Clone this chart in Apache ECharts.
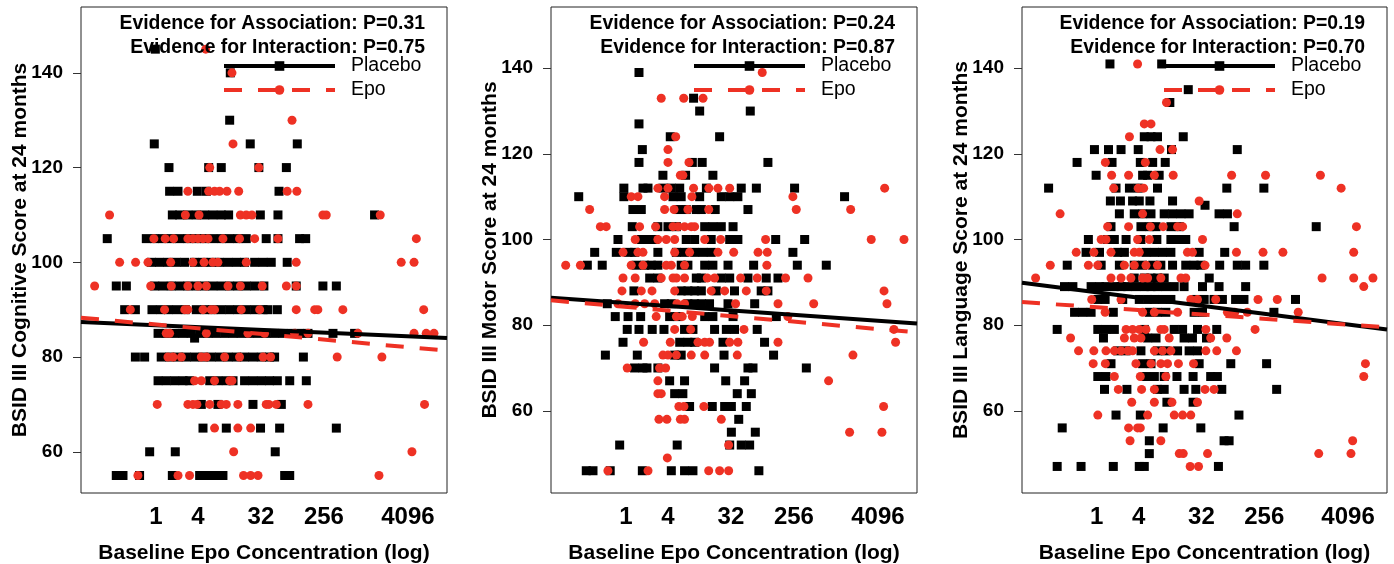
<!DOCTYPE html>
<html><head><meta charset="utf-8">
<script src="https://cdn.jsdelivr.net/npm/echarts@6/dist/echarts.min.js"></script>
<style>html,body{margin:0;padding:0;background:#fff}#c{width:1394px;height:564px}</style>
</head><body><div id="c"></div>
<script>
// x values are log2(Baseline Epo concentration)
const xTickValues = [0, 2, 5, 8, 12];
const xTickLabels = ['1', '4', '32', '256', '4096'];
const yTickValues = [60, 80, 100, 120, 140];
const xRange = [-3.57, 13.86];
const yRanges = [[51.3, 153.9], [40.8, 154.3], [40.8, 154.3]];
const yTitles = ['BSID III Cognitive Score at 24 months', 'BSID III Motor Score at 24 months', 'BSID III Language Score at 24 months'];
const xTitle = 'Baseline Epo Concentration (log)';
const pAssociation = ['0.31', '0.24', '0.19'];
const pInteraction = ['0.75', '0.87', '0.70'];

// rows: [score, [log2 concentrations]]
const cognitivePlacebo = [
 [145, [-0.03]],
 [140, [3.54]],
 [130, [3.51]],
 [125, [-0.08, 4.49, 6.73]],
 [120, [0.62, 2.51, 3.11, 4.90, 6.21]],
 [115, [0.65, 1.05, 1.97, 2.40, 5.86]],
 [110, [0.78, 1.13, 1.52, 1.92, 2.32, 2.71, 3.11, 3.46, 4.97, 5.81, 10.41]],
 [105, [-2.32, -0.46, -0.06, 0.33, 0.73, 1.13, 1.52, 1.92, 2.32, 2.71, 3.11, 3.51, 3.90, 4.30, 5.25, 5.81, 6.84, 7.13]],
 [100, [-0.22, 0.17, 0.57, 0.97, 1.37, 1.84, 2.24, 2.63, 3.03, 3.43, 3.83, 4.22, 4.70, 5.10, 5.49, 6.25]],
 [95, [-1.89, -1.41, -0.06, 0.33, 0.73, 1.13, 1.52, 1.92, 2.32, 2.71, 3.11, 3.51, 3.90, 4.30, 4.70, 5.14, 6.68, 7.95, 8.59]],
 [90, [-1.49, -0.98, -0.19, 0.21, 0.60, 1.00, 1.40, 1.92, 2.32, 2.71, 3.11, 3.51, 3.90, 4.30, 4.70, 5.10, 5.33, 5.78]],
 [85, [0.10, 0.49, 0.89, 1.29, 1.68, 2.08, 2.48, 2.87, 3.27, 3.67, 4.06, 4.46, 4.86, 5.25, 5.65, 6.05, 6.44, 6.84, 7.24, 8.43, 9.46]],
 [84, [1.84]],
 [80, [-0.98, -0.54, 0.25, 0.65, 1.05, 1.44, 1.84, 2.24, 2.63, 3.03, 3.43, 3.83, 4.22, 4.62, 5.02, 5.41, 5.65, 7.02]],
 [75, [0.10, 0.49, 0.89, 1.29, 1.60, 2.56, 2.95, 3.35, 3.67, 4.22, 4.62, 5.02, 5.41, 5.78, 6.37, 7.16]],
 [70, [2.16, 2.95, 4.62, 5.97]],
 [65, [2.24, 3.35, 4.98, 5.89, 8.59]],
 [60, [-0.30, 0.92, 5.68]],
 [55, [-1.89, -1.57, -0.78, 0.78, 2.08, 2.48, 2.87, 3.19, 6.13, 6.37]]
];
const cognitiveEpo = [
 [145, [2.37]],
 [140, [3.62]],
 [130, [6.48]],
 [125, [3.67]],
 [120, [2.56, 4.90]],
 [115, [1.52, 2.51, 2.79, 3.03, 3.38, 3.94, 6.25, 6.71]],
 [110, [-2.21, 1.40, 2.05, 4.02, 4.30, 4.57, 7.95, 8.11, 10.68]],
 [105, [-0.10, 0.44, 0.84, 1.52, 1.76, 2.00, 2.24, 2.48, 3.19, 3.98, 4.70, 5.81, 12.40]],
 [100, [-1.73, -0.97, -0.38, 0.70, 1.76, 2.29, 2.71, 2.95, 4.30, 6.68, 11.68, 12.29]],
 [95, [-2.92, -0.25, 0.73, 1.52, 2.00, 2.40, 3.43, 4.02, 5.06, 6.21, 6.68]],
 [90, [-1.22, 0.41, 1.37, 1.52, 2.24, 2.63, 2.79, 4.06, 4.94, 6.68, 7.56, 7.71, 8.90, 12.75]],
 [85, [0.49, 0.65, 2.40, 4.38, 5.17, 6.60, 7.24, 9.62, 12.29, 12.87, 13.24]],
 [80, [0.57, 0.81, 1.21, 2.16, 2.40, 3.27, 3.98, 5.10, 5.46, 8.63, 10.76]],
 [75, [1.84, 2.16, 2.79, 3.51, 3.62]],
 [70, [0.06, 1.52, 1.76, 1.95, 2.56, 3.11, 3.35, 3.90, 5.25, 5.38, 5.73, 7.24, 12.79]],
 [65, [2.79, 3.90, 4.51]],
 [60, [3.70, 12.19]],
 [55, [-0.86, 1.05, 1.60, 4.17, 4.51, 4.86, 10.62]]
];
const motorPlacebo = [
 [139, [0.62]],
 [133, [3.22]],
 [130, [3.51, 5.92]],
 [127, [0.62]],
 [124, [2.11, 4.46]],
 [121, [0.78]],
 [118, [0.62, 3.16, 3.63, 6.76]],
 [115, [1.76, 2.84, 4.14]],
 [112, [-0.10, 0.81, 1.05, 1.76, 2.16, 2.56, 3.83, 5.49, 6.21, 8.03]],
 [110, [-2.25, -0.10, 2.24, 2.63, 3.51, 4.54, 4.94, 5.33, 10.41]],
 [107, [0.33, 0.73, 2.48, 2.87, 3.35, 3.59, 4.25, 5.81]],
 [103, [0.30, 1.52, 2.00, 2.40, 3.75, 4.14, 4.54, 5.10]],
 [100, [-0.38, 0.73, 1.05, 1.37, 2.87, 3.27, 4.06, 4.94, 5.33, 7.13, 8.51]],
 [97, [-1.49, -0.46, 0.10, 0.41, 1.52, 2.40, 2.79, 3.27, 3.67, 4.06, 7.95]],
 [94, [-1.84, -1.13, 0.49, 0.89, 1.21, 1.52, 2.63, 2.95, 3.75, 4.14, 4.86, 6.08, 8.16, 9.54]],
 [91, [1.13, 1.52, 3.35, 3.59, 4.54, 4.94, 5.81, 6.68, 7.24]],
 [88, [0.38, 2.63, 2.95, 3.27, 3.59, 4.30, 5.17, 6.44, 6.76]],
 [85, [-0.89, 1.84, 2.16, 2.95, 3.27, 3.59, 3.98, 4.86, 6.13]],
 [82, [-0.51, 0.10, 0.70, 2.08, 2.48, 3.75, 4.14, 5.10, 7.16]],
 [79, [0.06, 0.62, 1.25, 1.81, 2.79, 3.19, 4.22, 4.78, 5.17, 6.25]],
 [76, [-0.14, 2.56, 2.95, 3.27, 4.62, 6.60]],
 [73, [-0.98, 0.54, 2.32, 2.63, 4.67, 7.03]],
 [70, [0.41, 0.81, 1.00, 1.52, 4.22, 5.81, 6.05, 8.59]],
 [67, [2.08, 2.79, 4.75, 5.65]],
 [64, [2.32, 2.71, 5.30, 5.97]],
 [61, [3.03, 4.11, 4.70, 5.02, 5.73]],
 [58, [5.37]],
 [55, [5.02, 6.16]],
 [52, [-0.30, 2.44, 4.94, 5.49, 5.89]],
 [46, [-1.89, -1.57, -0.75, 0.78, 2.16, 2.79, 3.19, 6.33]]
];
const motorEpo = [
 [139, [6.49]],
 [133, [1.68, 2.75, 3.67]],
 [124, [2.37]],
 [121, [2.00]],
 [118, [2.00, 3.00]],
 [115, [2.59, 2.71]],
 [112, [1.52, 2.00, 3.22, 3.95, 4.38, 4.94, 12.32]],
 [110, [0.25, 0.57, 1.84, 3.14, 7.95]],
 [107, [-1.73, 1.84, 2.29, 2.95, 3.94, 8.11, 10.70]],
 [103, [-1.22, -0.94, 0.65, 1.41, 2.24, 2.48, 2.79, 3.11, 3.27]],
 [100, [0.44, 1.52, 1.92, 2.32, 3.75, 4.51, 6.65, 11.68, 13.24]],
 [97, [-0.14, 0.57, 0.81, 2.32, 3.03, 4.38, 5.13, 6.29, 6.73]],
 [94, [-2.87, -2.17, 0.25, 0.81, 1.92, 2.16, 2.79, 6.71]],
 [91, [-0.14, 0.44, 1.68, 2.24, 2.40, 2.79, 3.87, 4.22, 5.46, 6.25, 7.60, 8.67]],
 [88, [-0.19, 0.73, 1.24, 2.32, 4.06, 4.70, 5.73, 6.68, 12.29]],
 [85, [-0.38, 0.44, 0.89, 1.37, 2.43, 2.79, 5.22, 7.24, 8.94, 12.43]],
 [82, [1.44, 2.40, 2.68, 3.16, 7.71]],
 [79, [2.32, 3.08, 5.62, 12.76]],
 [76, [0.84, 2.11, 3.43, 3.75, 3.98, 4.94, 5.33, 7.24, 12.84]],
 [73, [1.76, 2.00, 2.40, 3.11, 3.75, 5.30, 10.81]],
 [70, [0.06, 1.60, 1.89]],
 [67, [1.52, 9.65]],
 [64, [1.52, 1.68]],
 [61, [2.52, 2.76, 3.71, 12.27]],
 [58, [1.57, 1.95, 2.59, 2.79, 4.54]],
 [55, [10.65, 12.19]],
 [52, [4.89]],
 [49, [1.97]],
 [46, [-0.86, 1.05, 3.94, 4.46, 4.89]]
];
const languagePlacebo = [
 [141, [0.63, 3.10]],
 [135, [4.37]],
 [132, [3.49]],
 [124, [2.27, 2.59, 2.90, 4.13]],
 [121, [-0.11, 0.56, 1.16, 1.98, 3.57, 6.71]],
 [118, [-0.94, 0.73, 2.08, 2.67, 3.27]],
 [115, [-0.03, 2.19, 2.43, 2.98]],
 [112, [-2.30, 0.92, 1.56, 1.98, 2.90, 6.21, 7.98]],
 [109, [0.65, 1.13, 1.71, 2.03, 2.54, 3.62]],
 [108, [5.17]],
 [106, [1.08, 1.79, 2.19, 2.59, 3.22, 3.62, 4.02, 4.41, 5.84, 6.24]],
 [103, [0.68, 2.11, 2.51, 2.83, 3.54, 3.94, 6.56, 10.48]],
 [100, [-0.40, 0.52, 0.84, 1.40, 2.11, 2.87, 3.54, 3.86, 4.25]],
 [97, [-0.51, 0.13, 1.00, 1.32, 2.35, 2.75, 3.14, 3.54, 4.89, 6.11]],
 [94, [-1.41, 0.21, 1.08, 1.79, 2.19, 2.67, 3.06, 3.62, 4.25, 4.65, 4.97, 5.87, 6.71, 7.11, 7.98]],
 [91, [1.79, 2.27, 2.59, 2.90, 3.22, 5.37]],
 [89, [-1.54, -1.14, -0.27, 0.13, 0.44, 0.84, 1.16, 1.48, 1.87, 2.27, 2.59, 2.90, 3.30, 3.70, 4.17, 5.05, 5.84, 7.11]],
 [86, [0.05, 0.40, 1.24, 2.03, 2.43, 2.75, 3.14, 3.54, 4.73, 5.13, 5.60, 6.00, 6.63, 7.03, 9.49]],
 [83, [-1.06, -0.67, -0.27, 0.79, 2.51, 2.90, 3.30, 4.65, 5.05, 8.46]],
 [79, [-1.89, 0.05, 0.44, 0.84, 2.27, 3.70, 4.10, 4.81, 5.73]],
 [77, [0.32, 2.43, 2.83, 4.17, 4.57, 5.24]],
 [74, [1.00, 1.40, 2.11, 2.90, 3.30, 3.86, 4.41, 4.81]],
 [71, [0.68, 2.19, 2.59, 4.89, 6.40, 8.11]],
 [68, [0.05, 0.44, 2.35, 2.75, 3.22, 3.83, 4.60, 5.44, 5.76]],
 [65, [0.37, 1.44, 2.90, 3.22, 4.17, 4.73, 5.97, 8.59]],
 [62, [3.35, 4.60]],
 [59, [0.92, 2.08, 6.79]],
 [56, [-1.65, 3.17, 4.97]],
 [53, [2.51, 6.08, 6.32]],
 [50, [2.51]],
 [47, [-1.89, -0.75, 0.79, 2.03, 2.27, 5.81]]
];
const languageEpo = [
 [141, [1.95]],
 [132, [3.33]],
 [127, [2.27, 2.59]],
 [124, [1.56]],
 [121, [3.02, 3.62]],
 [118, [0.41, 2.32]],
 [115, [0.71, 1.52, 2.75, 3.65, 6.44, 8.06, 10.68]],
 [112, [0.81, 1.98, 2.24, 11.67]],
 [109, [4.89]],
 [106, [-1.75, 2.19, 6.71]],
 [103, [0.52, 1.52, 2.56, 3.17, 3.86, 4.10, 12.40]],
 [100, [0.21, 0.44, 1.95, 2.51, 5.05]],
 [97, [-0.98, -0.14, 0.68, 1.79, 2.03, 4.33, 4.57, 6.67, 7.94, 8.89, 12.27]],
 [94, [-2.22, -0.40, 0.05, 1.32, 1.79, 2.35, 2.90, 5.17]],
 [91, [-2.92, 0.68, 1.16, 1.63, 2.19, 2.43, 3.06, 4.02, 4.25, 10.76, 12.27, 13.19]],
 [89, [12.75]],
 [86, [-0.24, 1.16, 4.49, 4.81, 5.68, 7.70, 8.62]],
 [83, [0.40, 2.19, 2.75, 3.86, 6.24, 6.59, 7.19, 9.62]],
 [79, [1.40, 1.71, 2.03, 2.35, 3.06, 3.22, 5.21, 7.56]],
 [77, [-1.25, 1.32, 1.79, 2.11, 3.46, 5.44, 6.21]],
 [74, [-0.87, -0.14, 0.44, 0.84, 1.16, 1.48, 1.71, 2.75, 3.14, 3.54, 5.21, 5.73, 6.67]],
 [71, [-0.17, 0.41, 1.87, 2.59, 3.06, 3.38, 3.90, 4.62, 12.83]],
 [68, [0.84, 2.08, 3.30, 12.75]],
 [65, [1.03, 2.14, 2.75, 5.17, 5.60]],
 [62, [1.67, 2.75, 3.59, 4.81]],
 [59, [0.05, 2.43, 3.70, 4.10, 4.49]],
 [56, [1.52, 1.95, 2.08]],
 [53, [1.59, 3.06, 12.22]],
 [50, [3.94, 4.13, 5.29, 10.60, 12.14]],
 [47, [4.46, 4.86]]
];
// fitted line values at xRange ends
const cognitivePlaceboFit = [87.4, 84.0];
const cognitiveEpoFit = [88.3, 81.35];
const motorPlaceboFit = [86.4, 80.4];
const motorEpoFit = [85.8, 78.3];
const languagePlaceboFit = [89.9, 79.0];
const languageEpoFit = [85.4, 79.5];

const panels = [
  {pl: cognitivePlacebo, ep: cognitiveEpo, plFit: cognitivePlaceboFit, epFit: cognitiveEpoFit},
  {pl: motorPlacebo, ep: motorEpo, plFit: motorPlaceboFit, epFit: motorEpoFit},
  {pl: languagePlacebo, ep: languageEpo, plFit: languagePlaceboFit, epFit: languageEpoFit}
];

const RED = '#EE3124';
const FONT = '"Liberation Sans", Arial, Helvetica, sans-serif';
const gridLefts = [81, 551, 1022];
const gridWidths = [366, 366, 365];
const titleRightX = [425, 895, 1365];
const legendLefts = [222, 692, 1162];

function flatten(rows) {
  const out = [];
  rows.forEach(([score, xs]) => xs.forEach(x => out.push([x, score])));
  return out;
}

const option = {
  animation: false,
  backgroundColor: '#fff',
  textStyle: {fontFamily: FONT},
  graphic: [], legend: [], grid: [], xAxis: [], yAxis: [], series: []
};

panels.forEach((p, i) => {
  option.grid.push({left: gridLefts[i], top: 7, width: gridWidths[i], height: 486, show: true,
    containLabel: false, outerBoundsMode: 'none',
    borderColor: '#222', borderWidth: 1, backgroundColor: 'transparent'});
  option.graphic.push({
    type: 'text', x: titleRightX[i], y: 24, z: 100,
    style: {text: 'Evidence for Association: P=' + pAssociation[i], align: 'right', verticalAlign: 'middle',
      font: 'bold 19.4px ' + FONT, fill: '#000'}
  });
  option.graphic.push({
    type: 'text', x: titleRightX[i], y: 48, z: 100,
    style: {text: 'Evidence for Interaction: P=' + pInteraction[i], align: 'right', verticalAlign: 'middle',
      font: 'bold 19.4px ' + FONT, fill: '#000'}
  });
  option.legend.push({
    orient: 'vertical', left: legendLefts[i], top: 56, padding: 0,
    itemWidth: 111, itemHeight: 12, itemGap: 4, selectedMode: false,
    lineStyle: {width: 4},
    data: ['Placebo', 'Epo'],
    textStyle: {fontFamily: FONT, fontSize: 19.5, color: '#000', padding: [0, 0, 0, 11], lineHeight: 12}
  });
  option.xAxis.push({
    gridIndex: i, type: 'value', min: xRange[0], max: xRange[1],
    axisLine: {show: false, onZero: false}, axisTick: {show: false}, splitLine: {show: false},
    axisLabel: {customValues: xTickValues, formatter: v => xTickLabels[xTickValues.indexOf(v)],
      fontSize: 24, fontWeight: 'bold', color: '#000', margin: 12, fontFamily: FONT},
    name: xTitle, nameLocation: 'middle', nameGap: 50,
    nameTextStyle: {fontSize: 21, fontWeight: 'bold', color: '#000', fontFamily: FONT}
  });
  option.yAxis.push({
    gridIndex: i, type: 'value', min: yRanges[i][0], max: yRanges[i][1],
    axisLine: {show: false, onZero: false}, splitLine: {show: false},
    axisTick: {show: true, inside: false, length: 8, customValues: yTickValues, lineStyle: {color: '#333', width: 1}},
    axisLabel: {customValues: yTickValues, fontSize: 19, fontWeight: 'bold', color: '#000', margin: 18, fontFamily: FONT},
    name: yTitles[i], nameLocation: 'middle', nameGap: 50, nameMoveOverlap: false,
    nameTextStyle: {fontSize: 21, fontWeight: 'bold', color: '#000', fontFamily: FONT}
  });
  option.series.push({
    name: 'Placebo points', type: 'scatter', xAxisIndex: i, yAxisIndex: i,
    symbol: 'rect', symbolSize: 9, itemStyle: {color: '#000', opacity: 1}, data: flatten(p.pl), z: 2
  });
  option.series.push({
    name: 'Epo points', type: 'scatter', xAxisIndex: i, yAxisIndex: i,
    symbol: 'circle', symbolSize: 9, itemStyle: {color: RED, opacity: 1}, data: flatten(p.ep), z: 3
  });
  option.series.push({
    name: 'Placebo', type: 'line', xAxisIndex: i, yAxisIndex: i, symbol: 'rect', showSymbol: false,
    itemStyle: {color: '#000'}, lineStyle: {color: '#000', width: 4},
    data: [[xRange[0], p.plFit[0]], [xRange[1], p.plFit[1]]], z: 4
  });
  option.series.push({
    name: 'Epo', type: 'line', xAxisIndex: i, yAxisIndex: i, symbol: 'circle', showSymbol: false,
    itemStyle: {color: RED}, lineStyle: {color: RED, width: 4, type: [18, 16]},
    data: [[xRange[0], p.epFit[0]], [xRange[1], p.epFit[1]]], z: 5
  });
});

const chart = echarts.init(document.getElementById('c'), null, {renderer: 'canvas'});
chart.setOption(option);
</script>
</body></html>
